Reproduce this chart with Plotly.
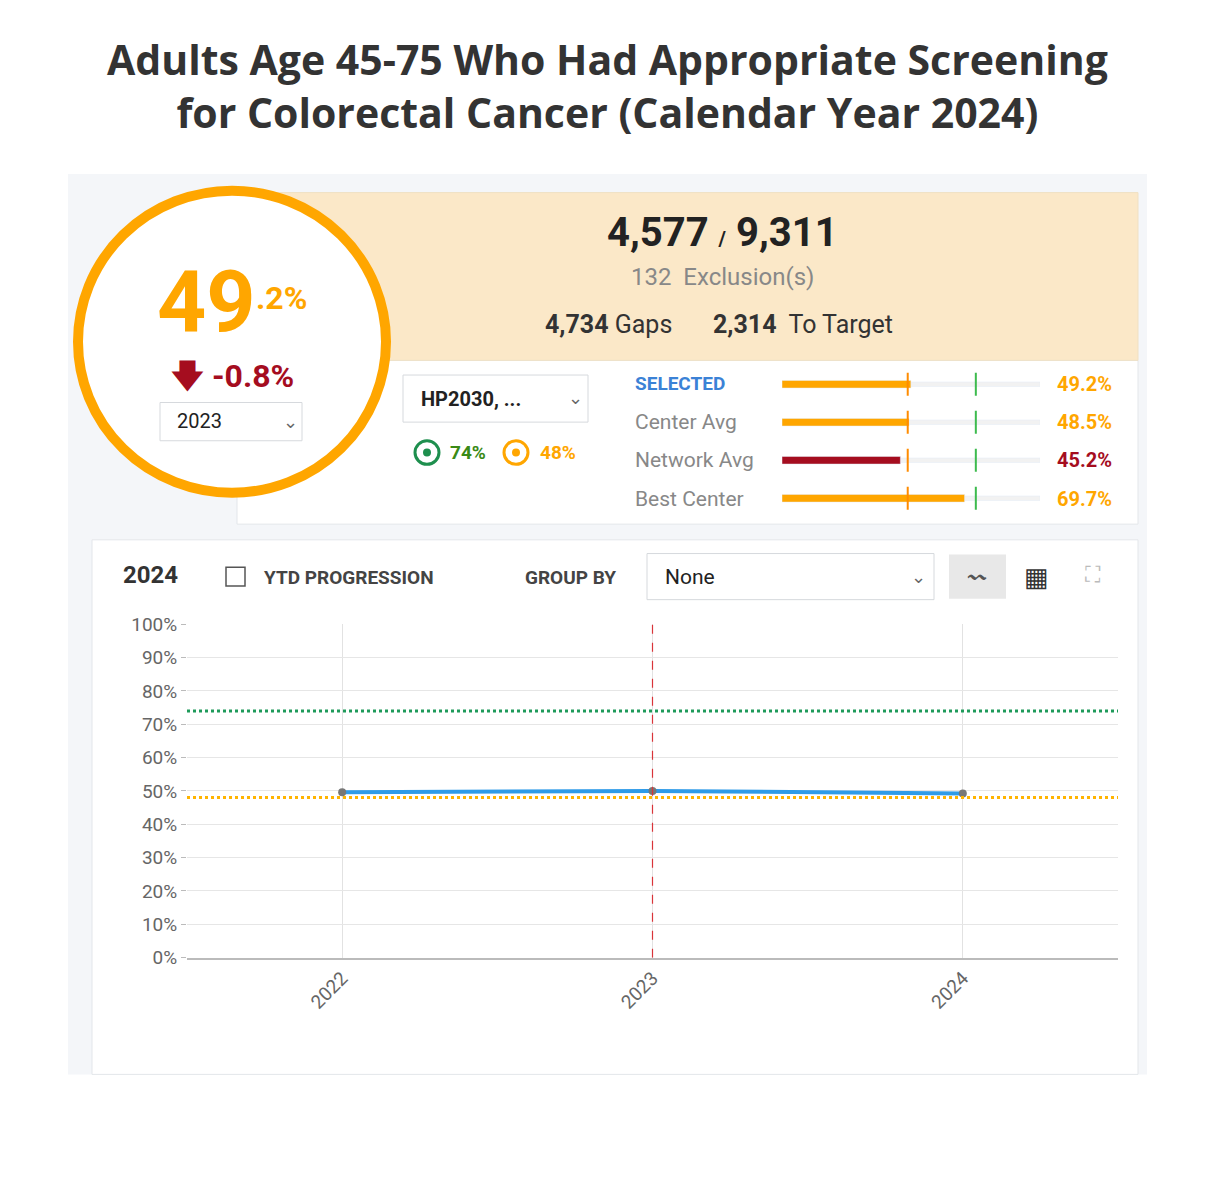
import plotly.graph_objects as go

W, H = 1230, 1200

years = [2022, 2023, 2024]
rates = [49.6, 50.0, 49.2]
target_green = 74
target_orange = 48
current_year = 2023

bench_labels = ["SELECTED", "Center Avg", "Network Avg", "Best Center"]
bench_values = [49.2, 48.5, 45.2, 69.7]
bench_colors = ["#ffa600", "#ffa600", "#a50d1f", "#ffa600"]
bench_text_colors = ["#ffa600", "#ffa600", "#a50d1f", "#ffa600"]

numerator, denominator = "4,577", "9,311"
exclusions = "132"
gaps, to_target = "4,734", "2,314"

# page puts the plot slightly off the top-left corner
OX, OY = 8, 12


def px(x):
    return (x - OX) / W


def py(y):
    return 1 - (y - OY) / H


FONT = "Roboto"
fig = go.Figure()

# main line chart
fig.add_trace(go.Scatter(
    x=years, y=rates, mode='lines+markers',
    line=dict(color='#2f9be8', width=4),
    marker=dict(color='#777777', size=8),
    xaxis='x', yaxis='y', showlegend=False, hoverinfo='skip'
))

# bullet tracks and bars
fig.add_trace(go.Bar(
    y=bench_labels, x=[98.5] * 4, orientation='h', width=0.12,
    marker=dict(color='#f2f2f2'), xaxis='x2', yaxis='y2', showlegend=False
))
fig.add_trace(go.Bar(
    y=bench_labels, x=bench_values, orientation='h', width=0.2,
    marker=dict(color=bench_colors), xaxis='x2', yaxis='y2', showlegend=False
))

shapes = []
# background cards
shapes.append(dict(type='rect', xref='paper', yref='paper', x0=px(68), x1=px(1147),
                   y0=py(1088), y1=py(170), fillcolor='#f4f6f9', line=dict(width=0), layer='below'))
shapes.append(dict(type='rect', xref='paper', yref='paper', x0=px(237), x1=px(1138),
                   y0=py(527), y1=py(360), fillcolor='white', line=dict(color='#e3e6ea', width=1), layer='below'))
shapes.append(dict(type='rect', xref='paper', yref='paper', x0=px(237), x1=px(1138),
                   y0=py(360), y1=py(189), fillcolor='#fbe8c8', line=dict(color='#efe0c4', width=1), layer='below'))
shapes.append(dict(type='rect', xref='paper', yref='paper', x0=px(92), x1=px(1138),
                   y0=py(1088), y1=py(543), fillcolor='white', line=dict(color='#e3e6ea', width=1), layer='below'))
# big circle
shapes.append(dict(type='circle', xref='paper', yref='paper', x0=px(78), x1=px(386),
                   y0=py(495), y1=py(187), fillcolor='white', line=dict(color='#ffa600', width=10), layer='below'))
# dropdown boxes
for x0, x1, y0, y1 in [(160, 302, 403, 442), (403, 588, 375, 423), (647, 934, 557, 604)]:
    shapes.append(dict(type='rect', xref='paper', yref='paper', x0=px(x0), x1=px(x1),
                       y0=py(y1), y1=py(y0), fillcolor='white', line=dict(color='#d6d9dd', width=1), layer='below'))
# icon buttons
shapes.append(dict(type='rect', xref='paper', yref='paper', x0=px(949), x1=px(1006),
                   y0=py(603), y1=py(558), fillcolor='#e8e8e8', line=dict(width=0), layer='below'))
shapes.append(dict(type='rect', xref='paper', yref='paper', x0=px(226), x1=px(245),
                   y0=py(590), y1=py(571), fillcolor='white', line=dict(color='#555', width=1.5)))
# target circles icons
for cx, col in [(427, '#1e8f4e'), (516, '#ffa600')]:
    shapes.append(dict(type='circle', xref='paper', yref='paper', x0=px(cx - 12), x1=px(cx + 12),
                       y0=py(466), y1=py(442), line=dict(color=col, width=3)))
    shapes.append(dict(type='circle', xref='paper', yref='paper', x0=px(cx - 4), x1=px(cx + 4),
                       y0=py(458), y1=py(450), fillcolor=col, line=dict(width=0)))
# bullet target marks
for i in range(len(bench_labels)):
    shapes.append(dict(type='line', xref='x2', yref='y2', x0=target_orange, x1=target_orange,
                       y0=i - 0.3, y1=i + 0.3, line=dict(color='#ff8c00', width=2)))
    shapes.append(dict(type='line', xref='x2', yref='y2', x0=target_green, x1=target_green,
                       y0=i - 0.3, y1=i + 0.3, line=dict(color='#3dbb4e', width=2)))
# chart target lines
shapes.append(dict(type='line', xref='x', yref='y', x0=2021.5, x1=2024.5, y0=target_green, y1=target_green,
                   line=dict(color='#1e9a5a', width=3, dash='dot')))
shapes.append(dict(type='line', xref='x', yref='y', x0=2021.5, x1=2024.5, y0=target_orange, y1=target_orange,
                   line=dict(color='#ffb400', width=3, dash='dot')))
shapes.append(dict(type='line', xref='x', yref='y', x0=current_year, x1=current_year, y0=0, y1=100,
                   line=dict(color='#d9343a', width=1.2, dash='dash')))

ann = []


def text(x, y, s, size, color='#333', anchor='center', bold=False, family=FONT):
    if bold:
        s = '<b>' + s + '</b>'
    ann.append(dict(x=px(x), y=py(y), xref='paper', yref='paper', text=s, showarrow=False,
                    xanchor=anchor, yanchor='middle', font=dict(size=size, color=color, family=family)))


text(607, 80, "Adults Age 45-75 Who Had Appropriate Screening<br>for Colorectal Cancer (Calendar Year 2024)",
     41, '#333', bold=True, family="Open Sans")
text(155, 300, "49", 86, '#ffa600', 'left', True)
text(254, 296, ".2%", 32, '#ffa600', 'left', True)
text(232, 376, "🡇 -0.8%", 32, '#a50d1f', bold=True)
text(175, 422, "2023", 20, '#222', 'left')
text(290, 422, "⌄", 18, '#666')
text(722, 230, f"{numerator} <span style='font-size:20px'>/</span> {denominator}", 40, '#222', bold=True)
text(722, 275, f"{exclusions}  Exclusion(s)", 24, '#888')
text(543, 323, f"<b>{gaps}</b> Gaps", 25, '#333', 'left')
text(711, 323, f"<b>{to_target}</b>  To Target", 25, '#333', 'left')
text(419, 399, "HP2030, ...", 20, '#222', 'left', True)
text(575, 398, "⌄", 18, '#666')
text(448, 454, f"{target_green}%", 19, '#3a8a16', 'left', True)
text(538, 454, f"{target_orange}%", 19, '#ffa600', 'left', True)
bench_y = [384, 423, 462, 501]
for lab, v, c, y in zip(bench_labels, bench_values, bench_text_colors, bench_y):
    if lab == "SELECTED":
        text(633, y, lab, 19, '#3b82d6', 'left', True)
    else:
        text(633, y, lab, 21, '#888', 'left')
    text(1114, y, f"{v}%", 20, c, 'right', True)
text(121, 579, "2024", 24, '#333', 'left', True)
text(262, 581, "YTD PROGRESSION", 19, '#444', 'left', True)
text(523, 581, "GROUP BY", 19, '#444', 'left', True)
text(663, 581, "None", 21, '#222', 'left')
text(918, 580, "⌄", 18, '#666')
text(977, 580, "〰", 18, '#555')
text(1036, 581, "▦", 26, '#333')
text(1093, 578, "⛶", 22, '#bbb')

fig.update_layout(
    width=W, height=H, margin=dict(l=0, r=0, t=0, b=0),
    paper_bgcolor='white', plot_bgcolor='rgba(0,0,0,0)',
    barmode='overlay', shapes=shapes, annotations=ann,
    xaxis=dict(domain=[px(187), px(1118)], range=[2021.5, 2024.5], tickvals=years,
               ticktext=[str(y) for y in years], tickangle=-45, showgrid=True, gridcolor='#e2e2e2',
               zeroline=False, showline=True, linecolor='#bbb', linewidth=2,
               tickfont=dict(size=19, color='#666', family=FONT)),
    yaxis=dict(domain=[py(969), py(629)], range=[0, 100], dtick=10, ticksuffix='%',
               showgrid=True, gridcolor='#e6e6e6', zeroline=False, ticks='outside', ticklen=5,
               tickcolor='#bbb', tickfont=dict(size=19, color='#666', family=FONT)),
    xaxis2=dict(domain=[px(782), px(1040)], range=[0, 98.5], visible=False, anchor='y2'),
    yaxis2=dict(domain=[py(520), py(365)], autorange='reversed', visible=False, anchor='x2'),
)

fig.write_html("out.html")
